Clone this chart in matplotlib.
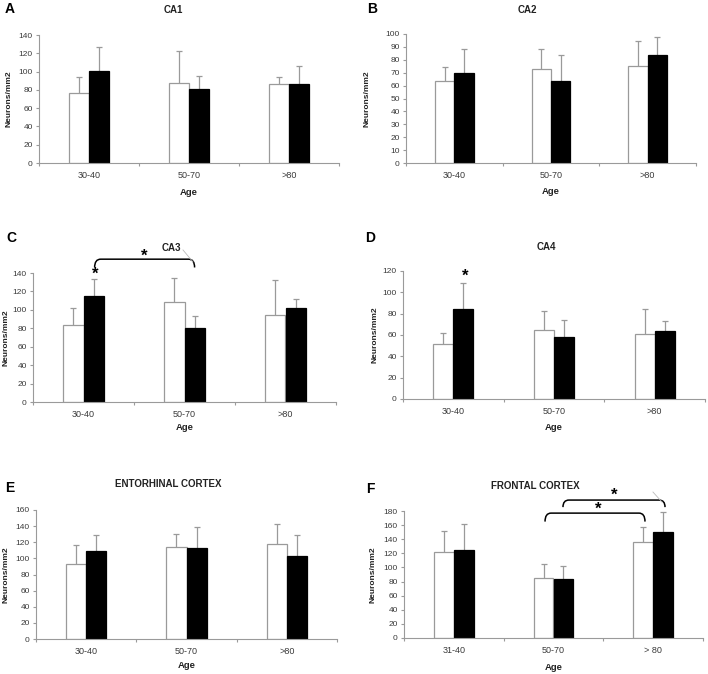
import matplotlib
matplotlib.use("Agg")
import matplotlib.pyplot as plt
from matplotlib.path import Path
from matplotlib.patches import PathPatch
import numpy as np

plt.rcParams['font.family'] = ['Liberation Sans', 'DejaVu Sans']

# dane: (biale, czarne) srednia i gorny blad
ages = ["30-40", "50-70", ">80"]
ages_f = ["31-40", "50-70", "> 80"]

ca1_white = [77, 88, 86.5]
ca1_white_err = [17.5, 34, 8]
ca1_black = [100.5, 81, 86.5]
ca1_black_err = [26.5, 14.5, 19.5]

ca2_white = [63.8, 73.1, 75.5]
ca2_white_err = [10.9, 15.5, 19.3]
ca2_black = [69.5, 63.3, 83.5]
ca2_black_err = [19.1, 20.7, 14.5]

ca3_white = [83.2, 108.5, 94]
ca3_white_err = [19.2, 26.1, 38.8]
ca3_black = [114.7, 80.3, 101.7]
ca3_black_err = [19.1, 12.7, 10.1]

ca4_white = [51.4, 64.5, 61.4]
ca4_white_err = [10.3, 18.4, 22.8]
ca4_black = [84.2, 57.7, 64.2]
ca4_black_err = [24.3, 16.2, 9]

ent_white = [93.6, 114.2, 117.9]
ent_white_err = [22.7, 16.5, 25.2]
ent_black = [108.9, 112.6, 103.5]
ent_black_err = [20.6, 26.8, 26]

fro_white = [121.4, 84.6, 136]
fro_white_err = [30.3, 19.8, 21.3]
fro_black = [124.3, 83.1, 150.2]
fro_black_err = [36.8, 18.5, 28.4]

W, H = 708, 674
fig = plt.figure(figsize=(W / 100, H / 100), dpi=100)

def fx(x):
    return x / W

def fy(y):
    return 1 - y / H

gray = '#9a9a9a'
txt = '#3a3a3a'

def up_err(ax, x, y, err):
    eb = ax.errorbar(x, y, yerr=[np.zeros(len(y)), err], fmt='none', ecolor=gray,
                     elinewidth=0.9, capsize=2, capthick=0.9, zorder=1)
    eb.lines[1][0].set_visible(False)  # bez dolnego wasa

def panel(box, white, werr, black, berr, ymax, ystep, labels, title, letter,
          title_xy, letter_xy, ylab_x, age_y):
    x0, y0, x1, y1 = box
    ax = fig.add_axes([fx(x0), fy(y1), fx(x1 - x0), (y1 - y0) / H])
    pos = np.arange(3)
    up_err(ax, pos - 0.1, white, werr)
    up_err(ax, pos + 0.1, black, berr)
    ax.bar(pos - 0.1, white, 0.2, color='white', edgecolor=gray, linewidth=0.9, zorder=2)
    ax.bar(pos + 0.1, black, 0.2, color='black', edgecolor='black', linewidth=0.9, zorder=2)
    ax.set_xlim(-0.5, 2.5)
    ax.set_ylim(0, ymax)
    ax.set_yticks(np.arange(0, ymax + 1, ystep))
    ax.set_xticks([-0.5, 0.5, 1.5, 2.5])
    ax.set_xticklabels([])
    ax.set_xticks(pos, minor=True)
    ax.set_xticklabels(labels, minor=True)
    ax.tick_params(axis='x', which='minor', length=0, labelsize=6.5,
                   labelcolor=txt, pad=6)
    ax.tick_params(axis='x', which='major', length=2.5, color=gray, width=0.8)
    ax.tick_params(axis='y', length=2.5, color=gray, width=0.8, labelsize=6,
                   labelcolor=txt, pad=2)
    for s in ['top', 'right']:
        ax.spines[s].set_visible(False)
    for s in ['left', 'bottom']:
        ax.spines[s].set_color(gray)
        ax.spines[s].set_linewidth(0.8)
    fig.text(fx(title_xy[0]), fy(title_xy[1]), title, ha='center', va='center',
             fontsize=7, fontweight='bold', color='#222222')
    fig.text(fx(letter_xy[0]), fy(letter_xy[1]), letter, ha='center', va='center',
             fontsize=10, fontweight='bold', color='black')
    fig.text(fx(ylab_x), fy((y0 + y1) / 2), 'Neurons/mm2', rotation=90,
             ha='center', va='center', fontsize=6, fontweight='bold', color='#222222')
    fig.text(fx((x0 + x1) / 2), fy(age_y), 'Age', ha='center', va='center',
             fontsize=6.8, fontweight='bold', color='#222222')
    return ax

def bracket(ax, xa, xb, ytop, ydrop):
    r = 0.06
    verts = [(xa, ytop - ydrop), (xa, ytop), (xa + r, ytop), (xb - r, ytop),
             (xb, ytop), (xb, ytop - ydrop)]
    codes = [Path.MOVETO, Path.CURVE3, Path.CURVE3, Path.LINETO, Path.CURVE3, Path.CURVE3]
    ax.add_patch(PathPatch(Path(verts, codes), facecolor='none', edgecolor='black',
                           linewidth=1.1, clip_on=False))

def star(ax, x, y):
    ax.text(x, y, '*', ha='center', va='center', fontsize=12, fontweight='bold',
            color='black', clip_on=False)

axA = panel((39, 35, 339, 163), ca1_white, ca1_white_err, ca1_black, ca1_black_err,
            140, 20, ages, 'CA1', 'A', (173, 10), (10, 9), 9, 192)
axB = panel((406, 34, 696, 163), ca2_white, ca2_white_err, ca2_black, ca2_black_err,
            100, 10, ages, 'CA2', 'B', (527, 10), (372, 9), 367, 191)
axC = panel((33, 273, 336, 402), ca3_white, ca3_white_err, ca3_black, ca3_black_err,
            140, 20, ages, 'CA3', 'C', (171, 248), (11, 238), 6, 428)
axD = panel((403, 271, 705, 399), ca4_white, ca4_white_err, ca4_black, ca4_black_err,
            120, 20, ages, 'CA4', 'D', (546, 247), (370, 238), 375, 427)
axE = panel((36, 510, 337, 639), ent_white, ent_white_err, ent_black, ent_black_err,
            160, 20, ages, 'ENTORHINAL CORTEX', 'E', (168, 484), (10, 488), 6, 666)
axF = panel((404, 511, 703, 638), fro_white, fro_white_err, fro_black, fro_black_err,
            180, 20, ages_f, 'FRONTAL CORTEX', 'F', (535, 486), (370, 489), 373, 667)

# istotnosci
bracket(axC, 0.11, 1.1, 155, 9)
star(axC, 0.6, 158)
star(axC, 0.12, 139)
axC.plot([0.985, 1.084], [165, 152], color='#bbbbbb', lw=0.6, clip_on=False)

star(axD, 0.116, 115)

bracket(axF, 0.915, 1.918, 177, 12)
bracket(axF, 1.095, 2.119, 195.5, 10)
star(axF, 1.45, 182)
star(axF, 1.61, 203)
axF.plot([1.998, 2.088], [206.9, 192.8], color='#bbbbbb', lw=0.6, clip_on=False)

plt.savefig('out.png', dpi=100)
